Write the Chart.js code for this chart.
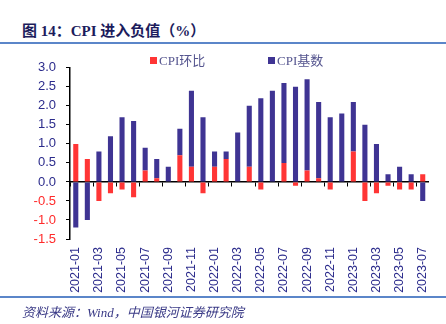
<!DOCTYPE html>
<html>
<head>
<meta charset="utf-8">
<script src="https://cdn.jsdelivr.net/npm/chart.js@4/dist/chart.umd.min.js"></script>
<style>
  body { margin: 0; width: 446px; height: 324px; background: #fff; position: relative; overflow: hidden; }
  #title { position: absolute; left: 22px; top: 19px; font: bold 15px "Liberation Serif", "Noto Sans CJK SC", serif; color: #1c1c5c; }
  .rule { position: absolute; left: 0; width: 446px; height: 2px; background: #5b86c9; }
  #legend { position: absolute; top: 50px; left: 0; width: 446px; height: 16px; font: 13px "Liberation Serif", "Noto Sans CJK SC", serif; color: #55558f; z-index: 2; }
  #legend span.item { position: absolute; top: 0; white-space: nowrap; }
  #legend i { display: inline-block; width: 7px; height: 7px; margin-right: 2px; vertical-align: 1px; }
  #src { position: absolute; left: 22px; top: 302px; font: italic 13px "Liberation Serif", "Noto Sans CJK SC", serif; color: #3a3a86; }
  #wrap { position: absolute; left: 0; top: 50px; width: 446px; height: 250px; }
</style>
</head>
<body>
<div id="title">图 14：CPI 进入负值（%）</div>
<div class="rule" style="top:42px"></div>
<div id="wrap"><canvas id="c" width="446" height="250"></canvas></div>
<div id="legend"></div>
<div class="rule" style="top:296px"></div>
<div id="src">资料来源：Wind，中国银河证券研究院</div>
<script>
const months = [
  '2021-01','2021-02','2021-03','2021-04','2021-05','2021-06','2021-07','2021-08','2021-09','2021-10','2021-11','2021-12',
  '2022-01','2022-02','2022-03','2022-04','2022-05','2022-06','2022-07','2022-08','2022-09','2022-10','2022-11','2022-12',
  '2023-01','2023-02','2023-03','2023-04','2023-05','2023-06','2023-07'
];
const momLabel = 'CPI环比';
const baseLabel = 'CPI基数';
const mom = [1.0, 0.6, -0.5, -0.3, -0.2, -0.4, 0.3, 0.1, 0.0, 0.7, 0.4, -0.3,
             0.4, 0.6, 0.0, 0.4, -0.2, 0.0, 0.5, -0.1, 0.3, 0.1, -0.2, 0.0,
             0.8, -0.5, -0.3, -0.1, -0.2, -0.2, 0.2];
const base = [-1.2, -1.0, 0.8, 1.2, 1.7, 1.6, 0.6, 0.5, 0.4, 0.7, 2.0, 1.7,
              0.4, 0.2, 1.3, 1.6, 2.2, 2.4, 2.1, 2.5, 2.4, 2.0, 1.7, 1.8,
              1.3, 1.5, 1.0, 0.2, 0.4, 0.2, -0.5];
const yTicks = [-1.5, -1.0, -0.5, 0.0, 0.5, 1.0, 1.5, 2.0, 2.5, 3.0];

const RED = '#ff3535';
const BLUE = '#3f3493';

const legend = document.getElementById('legend');
[[momLabel, RED, 150], [baseLabel, BLUE, 268]].forEach(([name, color, x]) => {
  const s = document.createElement('span');
  s.className = 'item';
  s.style.left = x + 'px';
  s.innerHTML = `<i style="background:${color}"></i>${name}`;
  legend.appendChild(s);
});

new Chart(document.getElementById('c'), {
  type: 'bar',
  data: {
    labels: months,
    datasets: [
      { label: momLabel, data: mom, backgroundColor: RED, categoryPercentage: 1, barPercentage: 0.44 },
      { label: baseLabel, data: base, backgroundColor: BLUE, categoryPercentage: 1, barPercentage: 0.44 }
    ]
  },
  options: {
    responsive: false,
    animation: false,
    devicePixelRatio: 1,
    layout: { padding: { top: 2, right: 17, left: 0, bottom: 0 } },
    plugins: { legend: { display: false }, tooltip: { enabled: false } },
    scales: {
      x: {
        stacked: true,
        grid: { display: false, drawTicks: false },
        border: { display: false },
        afterFit: (s) => { s.height = 61; },
        ticks: {
          autoSkip: false,
          maxRotation: 90,
          minRotation: 90,
          padding: 8,
          color: '#2c2c8c',
          font: { family: 'Liberation Sans, Arial', size: 12.5 },
          callback: (v, i) => (i % 2 === 0 ? months[i] : '')
        }
      },
      x2: {
        type: 'category',
        labels: months,
        position: { y: 0 },
        grid: {
          display: true,
          drawOnChartArea: false,
          offset: true,
          tickLength: 4,
          color: (ctx) => (ctx.index % 2 === 0 ? '#000' : 'rgba(0,0,0,0)')
        },
        border: { display: true, color: '#000', width: 1.5 },
        ticks: { display: false }
      },
      y: {
        stacked: true,
        min: -1.5,
        max: 3.0,
        afterFit: (s) => { s.width = 70; },
        afterBuildTicks: (s) => { s.ticks = yTicks.map((v) => ({ value: v })); },
        grid: { drawOnChartArea: false, tickLength: 4, color: '#000' },
        border: { display: true, color: '#000', width: 1.5 },
        ticks: {
          autoSkip: false,
          padding: 10,
          color: (ctx) => (ctx.tick.value < 0 ? '#ff2a2a' : '#2c2c8c'),
          font: { family: 'Liberation Sans, Arial', size: 13 },
          callback: (v) => Number(v).toFixed(1)
        }
      }
    }
  }
});
</script>
</body>
</html>
